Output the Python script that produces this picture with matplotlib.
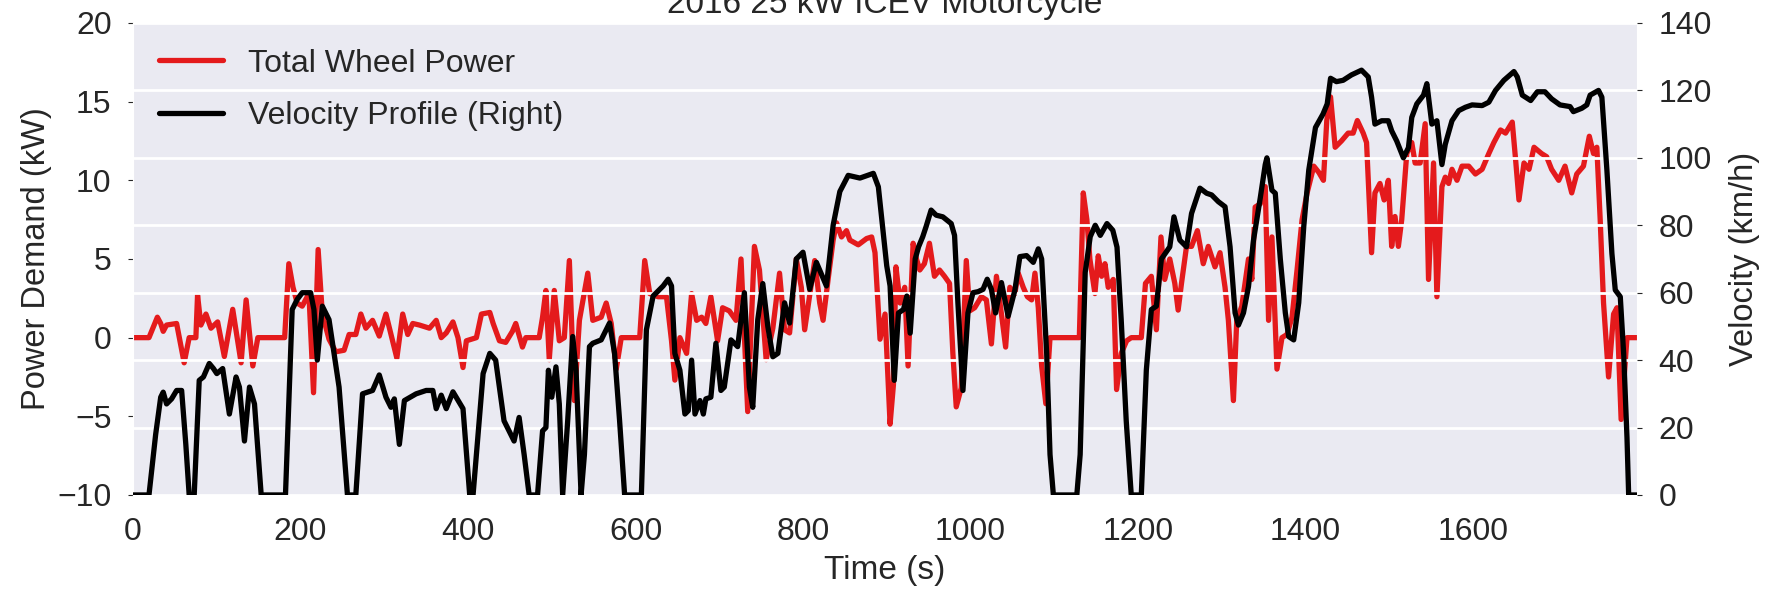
import numpy as np
import matplotlib.pyplot as plt
import seaborn as sns

sns.set_style("darkgrid")
plt.rcParams['font.family'] = ['Liberation Sans', 'DejaVu Sans']

# Velocity profile (km/h)
speed_t = [0, 19, 27, 33, 36, 40, 46, 52, 58, 63, 67, 73, 79, 84, 91, 96, 100, 107, 115, 123,
           127, 133, 139, 145, 153, 182, 190, 196, 202, 212, 216, 220, 226, 234, 246, 256, 266, 274, 286, 294,
           302, 308, 312, 318, 324, 338, 350, 358, 362, 368, 374, 382, 394, 402, 406, 418, 426, 433, 443, 449,
           455, 461, 467, 473, 483, 489, 493, 496, 500, 505, 509, 513, 519, 525, 529, 535, 539, 545, 549, 559,
           565, 569, 575, 581, 587, 607, 613, 621, 633, 639, 643, 647, 653, 659, 663, 667, 671, 677, 681, 684,
           690, 696, 702, 706, 714, 722, 730, 736, 740, 746, 752, 758, 764, 770, 778, 784, 792, 800, 808, 816,
           828, 836, 844, 854, 868, 884, 890, 900, 904, 909, 914, 920, 924, 928, 934, 938, 943, 947, 953, 959,
           967, 977, 981, 985, 991, 997, 1003, 1009, 1015, 1020, 1025, 1030, 1037, 1045, 1053, 1059, 1067, 1075, 1081, 1085,
           1091, 1095, 1099, 1127, 1131, 1137, 1143, 1149, 1155, 1163, 1170, 1175, 1180, 1186, 1192, 1204, 1210, 1216, 1222, 1228,
           1238, 1243, 1250, 1258, 1264, 1274, 1282, 1288, 1296, 1304, 1310, 1316, 1320, 1326, 1332, 1338, 1346, 1352, 1354, 1360,
           1364, 1370, 1376, 1380, 1386, 1392, 1398, 1404, 1412, 1421, 1426, 1430, 1437, 1445, 1455, 1467, 1475, 1479, 1483, 1491,
           1499, 1503, 1509, 1517, 1523, 1527, 1533, 1541, 1545, 1551, 1557, 1563, 1567, 1575, 1583, 1591, 1599, 1611, 1619, 1627,
           1637, 1649, 1653, 1659, 1669, 1677, 1686, 1694, 1704, 1716, 1720, 1730, 1736, 1740, 1750, 1754, 1760, 1766, 1770, 1776,
           1780, 1784, 1786, 1796]
speed_kmh = [0, 0, 18, 29, 30.5, 27, 28.5, 31, 31, 15, 0, 0, 34, 35, 39, 37.5, 36, 37.5, 24, 35,
             32, 16, 32, 27, 0, 0, 55, 58, 60, 60, 55, 40, 56, 52, 32, 0, 0, 30, 31, 35.6,
             29, 26, 28.5, 15, 28, 30, 31, 31, 25.6, 29.6, 25.6, 30.6, 25.6, 0, 0, 36, 42, 40, 22, 19,
             16, 23, 12, 0, 0, 19, 20, 37, 29, 38, 27, 0, 22, 47, 37, 0, 12, 44, 45, 46,
             49, 51, 42, 22, 0, 0, 49, 59, 62, 64, 62, 42, 37, 24, 25, 40, 24, 28, 24, 28.5,
             29, 45, 31, 32, 46, 44, 60, 32, 26, 52, 62.7, 50, 41, 42, 57, 51, 70, 72, 61, 69,
             62, 80, 90, 94.8, 94, 95.4, 91.4, 68, 62, 34, 54, 55, 59, 48, 70, 73.6, 76.6, 79.6, 84.5, 83,
             82.5, 80.5, 77, 57, 31, 54, 60, 60.3, 61, 64, 61, 54, 63, 53, 60.7, 70.7, 71, 69, 73, 70,
             42, 12, 0, 0, 12, 66, 76.6, 80, 77, 80.5, 78.5, 73.5, 52, 22, 0, 0, 37, 55, 56, 70,
             73.6, 82.5, 75.6, 73.6, 83.5, 91, 89.5, 89, 87, 85.5, 73.6, 54, 50.4, 54, 61.8, 75.6, 88, 98, 100, 90.4,
             89.5, 70, 54, 47, 46, 57, 79.6, 96.4, 109, 113, 116, 123.6, 122.6, 123, 124.6, 126, 124, 118, 110, 111,
             111, 108, 105, 100, 103, 112, 116, 118.6, 122, 110, 111, 98, 104, 111, 114, 115, 115.7, 115.5, 116.5, 120,
             123, 125.6, 124, 118.6, 117, 119.6, 119.6, 117.5, 115.7, 115.2, 113.7, 114.7, 115.7, 118.6, 120, 118, 96.4, 71.6, 60.8, 58.8,
             42, 17, 0, 0]

# Total wheel power (kW)
power_t = [0, 19, 29, 33, 36, 40, 52, 61, 67, 75, 77, 81, 87, 93, 101, 109, 119, 129, 135, 143,
           149, 181, 186, 191, 196, 202, 210, 215.5, 221, 226, 234, 242, 252, 258, 266, 272, 278, 286, 294, 302,
           308, 315, 322, 328, 334, 342, 354, 362, 368, 374, 382, 388, 394, 398, 410, 416, 426, 430, 437.5, 445,
           453, 457, 465, 469, 485, 489, 493, 497, 503, 509, 515, 521, 527, 533, 543, 549, 559, 565, 571, 577,
           583, 605, 611, 617, 627, 637, 643, 647, 653, 661, 667, 673, 679, 684, 690, 698, 704, 712, 720, 726,
           734, 742, 748, 756, 764, 772, 778, 784, 792, 798, 802, 814, 820, 824, 830, 836, 840, 846, 852, 856,
           866, 876, 882, 886, 892, 898, 904, 908, 911, 916, 921.5, 925.5, 931.5, 935.5, 939.5, 945, 951, 957, 963, 969,
           975, 979, 983, 989, 995, 999, 1005, 1013, 1019, 1025, 1031, 1037, 1042, 1047, 1053, 1057, 1063, 1068, 1073, 1077,
           1081, 1085, 1090, 1095, 1130, 1134.7, 1139, 1142.6, 1148.6, 1152.6, 1156.6, 1160.6, 1164.5, 1170.5, 1174.5, 1180, 1186.5, 1192, 1204, 1209,
           1216, 1222, 1227.5, 1232, 1238, 1244, 1248, 1252, 1258, 1264, 1271, 1278, 1284, 1292, 1298, 1304, 1308, 1314, 1318, 1324,
           1332, 1336, 1340, 1346, 1352, 1356, 1360, 1366, 1372, 1378, 1384, 1390, 1396, 1402, 1410, 1416, 1421.5, 1425.5, 1430, 1435.5,
           1443, 1451, 1457, 1462, 1469, 1473, 1479, 1483, 1489, 1494, 1499, 1503, 1507, 1511, 1515, 1521, 1527, 1531, 1537, 1543,
           1547, 1553, 1557, 1563, 1567, 1571, 1575, 1581, 1587, 1595, 1603, 1611, 1619, 1625, 1633, 1639, 1647, 1651, 1655, 1661,
           1667, 1673, 1682, 1688, 1694, 1702.5, 1710, 1718, 1724, 1732, 1739, 1744, 1748, 1752, 1756, 1762, 1768, 1772, 1777, 1784,
           1796]
power_kw = [0, 0, 1.3, 0.9, 0.4, 0.8, 0.9, -1.6, 0, 0, 2.7, 0.8, 1.5, 0.6, 1.0, -1.2, 1.8, -1.6, 2.4, -1.8,
            0, 0, 4.7, 3.2, 2.2, 2.0, 2.8, -3.5, 5.6, 1.5, -0.1, -0.9, -0.8, 0.2, 0.2, 1.5, 0.6, 1.1, 0.1, 1.5,
            0.2, -1.3, 1.5, 0.2, 0.9, 0.8, 0.6, 1.1, 0, 0.3, 1.0, 0, -1.9, -0.2, 0, 1.5, 1.6, 0.9, -0.2, -0.3,
            0.4, 0.9, -0.6, 0, 0, 1.3, 3.0, -1.4, 3.0, -0.2, 0, 4.9, -4.0, 1.1, 4.1, 1.1, 1.3, 2.2, 0.9, -2.0,
            0, 0, 4.9, 2.8, 2.6, 2.6, -0.2, -2.7, 0, -1.0, 2.8, 1.1, 1.3, 0.9, 2.6, -0.2, 1.9, 1.7, 1.1, 5.0,
            -4.7, 5.8, 4.3, -1.4, 0.6, 4.1, 0.5, 0.3, 5.0, 3.2, 0.5, 4.9, 2.2, 1.1, 3.7, 6.2, 7.3, 6.4, 6.8, 6.2,
            5.9, 6.3, 6.4, 5.4, -0.1, 1.5, -5.5, -3.0, 4.5, 2.2, 3.2, -1.8, 6.0, 5.0, 4.3, 4.7, 6.0, 3.9, 4.3, 3.9,
            3.45, -1.0, -4.4, -3.2, 4.9, 1.7, 1.9, 2.6, 2.4, -0.4, 3.9, 1.5, -0.6, 3.2, 2.8, 4.1, 3.2, 2.6, 2.4, 4.1,
            1.9, -1.8, -4.2, 0, 0, 9.2, 7.5, 5.0, 2.8, 5.2, 3.9, 4.7, 3.2, 3.7, -3.3, -1.0, -0.2, 0, 0, 3.45,
            3.9, 0.5, 6.4, 3.7, 5.0, 3.45, 1.75, 3.45, 5.8, 5.8, 6.8, 4.7, 5.8, 4.5, 5.4, 3.2, 1.1, -4.0, 1.1, 2.0,
            5.0, 3.7, 8.3, 8.5, 9.6, 1.1, 6.4, -2.0, 0, 0.2, 1.3, 4.3, 7.5, 9.2, 10.9, 10.5, 10.0, 13.8, 15.3, 12.1,
            12.5, 13.0, 13.0, 13.8, 13.0, 12.4, 5.4, 9.2, 9.8, 8.75, 10.0, 5.8, 7.7, 5.8, 7.5, 11.7, 12.4, 11.1, 11.1, 13.6,
            3.7, 11.1, 2.6, 9.6, 10.2, 9.8, 10.7, 10.0, 10.9, 10.9, 10.4, 10.7, 11.7, 12.4, 13.2, 13.0, 13.7, 11.3, 8.75, 11.1,
            10.7, 12.1, 11.7, 11.5, 10.7, 10.0, 10.9, 9.2, 10.4, 10.9, 12.8, 11.7, 12.1, 7.5, 2.2, -2.5, 1.5, 1.9, -5.2, 0,
            0]

fig, ax1 = plt.subplots(figsize=(17.79, 5.97), dpi=100)
fig.subplots_adjust(left=0.0748, right=0.9202, top=0.9615, bottom=0.1709)

l1, = ax1.plot(power_t, power_kw, color='#e41a1c', lw=3.8, label='Total Wheel Power')
ax1.set_ylim(-10, 20)
ax1.set_xlim(0, 1796)
ax1.grid(False)
ax1.set_xlabel('Time (s)', fontsize=24, labelpad=6)
ax1.set_ylabel('Power Demand (kW)', fontsize=23.5, labelpad=4)
ax1.tick_params(labelsize=23, pad=12)
ax1.set_title('2016 25 kW ICEV Motorcycle', fontsize=24, pad=7)

ax2 = ax1.twinx()
l2, = ax2.plot(speed_t, speed_kmh, color='black', lw=3.8, label='Velocity Profile (Right)')
ax2.set_ylim(0, 140)
ax2.set_xlim(0, 1796)
ax2.grid(True, color='white', lw=2)
ax2.set_ylabel('Velocity (km/h)', fontsize=23.5, labelpad=12)
ax2.tick_params(labelsize=23, pad=12)
for s in ax2.spines.values():
    s.set_visible(False)

ax2.legend([l1, l2], [l1.get_label(), l2.get_label()], loc='upper left', fontsize=23,
           frameon=False, borderaxespad=0.4, labelspacing=0.7)

plt.savefig('out.png')
